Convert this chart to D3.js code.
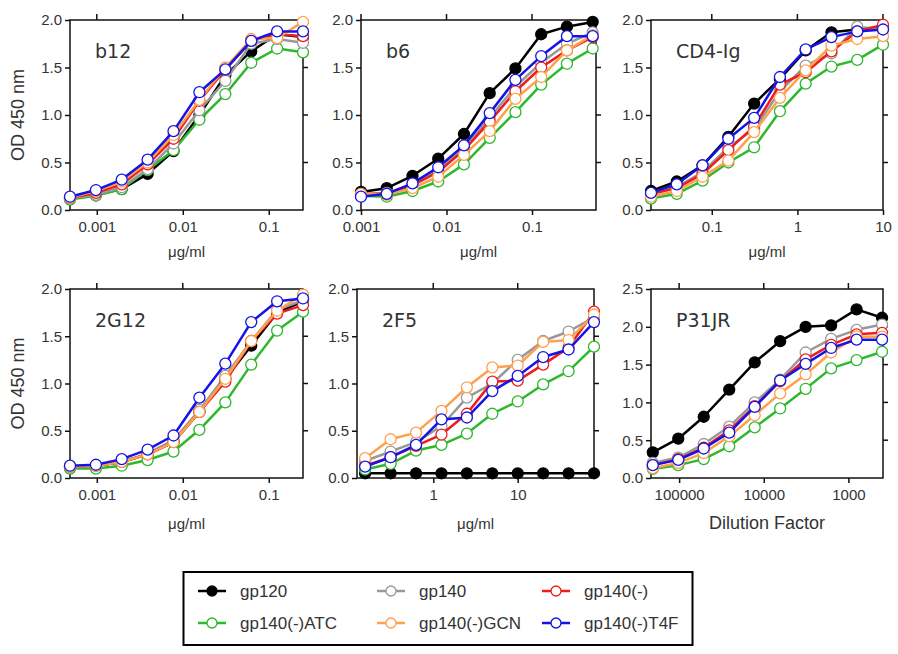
<!DOCTYPE html>
<html>
<head>
<meta charset="utf-8">
<script src="https://cdn.jsdelivr.net/npm/d3@7"></script>
<style>
  html, body { margin: 0; padding: 0; background: #fff; }
  svg { display: block; }
  text { font-family: "Liberation Sans", Arial, sans-serif; fill: #333; }
</style>
</head>
<body>
<svg id="chart" width="898" height="654"></svg>
<script>
// ---------- data ----------
const seriesNames  = ["gp120", "gp140", "gp140(-)", "gp140(-)ATC", "gp140(-)GCN", "gp140(-)T4F"];
const seriesColors = ["#000000", "#999999", "#ee1c1c", "#2db82d", "#ffa04d", "#1414e6"];
const drawOrder = [0, 3, 1, 2, 4, 5];

const panelNames = ["b12", "b6", "CD4-Ig", "2G12", "2F5", "P31JR"];
const xLabels = ["\u03BCg/ml", "\u03BCg/ml", "\u03BCg/ml", "\u03BCg/ml", "\u03BCg/ml", "Dilution Factor"];

const concB12  = [0.000488, 0.000977, 0.00195, 0.0039, 0.0078, 0.0156, 0.03125, 0.0625, 0.125, 0.25];
const concB6   = [0.001, 0.002, 0.004, 0.008, 0.016, 0.032, 0.064, 0.128, 0.256, 0.512];
const concCD4  = [0.0195, 0.039, 0.078, 0.156, 0.3125, 0.625, 1.25, 2.5, 5, 10];
const conc2G12 = [0.000488, 0.000977, 0.00195, 0.0039, 0.0078, 0.0156, 0.03125, 0.0625, 0.125, 0.25];
const conc2F5  = [0.156, 0.3125, 0.625, 1.25, 2.5, 5, 10, 20, 40, 80];
const dilP31   = [204800, 102400, 51200, 25600, 12800, 6400, 3200, 1600, 800, 400];

// OD values, one row per series in seriesNames order
const odB12 = [
  [0.12, 0.16, 0.22, 0.38, 0.62, 1.00, 1.42, 1.67, 1.85, 1.82],
  [0.12, 0.16, 0.24, 0.43, 0.70, 1.05, 1.36, 1.75, 1.80, 1.76],
  [0.13, 0.18, 0.27, 0.48, 0.75, 1.15, 1.48, 1.78, 1.85, 1.83],
  [0.11, 0.15, 0.22, 0.42, 0.63, 0.95, 1.22, 1.55, 1.70, 1.66],
  [0.13, 0.20, 0.30, 0.50, 0.79, 1.16, 1.50, 1.80, 1.81, 1.98],
  [0.14, 0.21, 0.32, 0.53, 0.83, 1.24, 1.48, 1.78, 1.88, 1.88]
];
const odB6 = [
  [0.19, 0.23, 0.36, 0.54, 0.80, 1.23, 1.49, 1.85, 1.93, 1.98],
  [0.16, 0.18, 0.27, 0.42, 0.65, 0.97, 1.30, 1.55, 1.75, 1.87],
  [0.17, 0.17, 0.26, 0.40, 0.63, 0.93, 1.25, 1.50, 1.68, 1.82],
  [0.15, 0.14, 0.20, 0.30, 0.48, 0.76, 1.03, 1.32, 1.54, 1.70],
  [0.17, 0.16, 0.23, 0.35, 0.58, 0.83, 1.17, 1.40, 1.68, 1.84],
  [0.14, 0.17, 0.28, 0.45, 0.68, 1.02, 1.37, 1.62, 1.83, 1.83]
];
const odCD4 = [
  [0.20, 0.30, 0.47, 0.77, 1.12, 1.38, 1.68, 1.87, 1.90, 1.93],
  [0.16, 0.24, 0.40, 0.66, 0.85, 1.25, 1.52, 1.65, 1.93, 1.90],
  [0.17, 0.23, 0.38, 0.63, 0.88, 1.32, 1.45, 1.67, 1.88, 1.95],
  [0.12, 0.17, 0.31, 0.50, 0.66, 1.04, 1.33, 1.51, 1.58, 1.74],
  [0.14, 0.20, 0.35, 0.52, 0.82, 1.18, 1.47, 1.73, 1.80, 1.83],
  [0.18, 0.27, 0.47, 0.75, 0.97, 1.40, 1.69, 1.82, 1.88, 1.90]
];
const od2G12 = [
  [0.12, 0.13, 0.17, 0.25, 0.38, 0.70, 1.05, 1.40, 1.75, 1.87],
  [0.12, 0.13, 0.17, 0.26, 0.40, 0.72, 1.08, 1.45, 1.78, 1.88],
  [0.12, 0.13, 0.17, 0.25, 0.38, 0.70, 1.02, 1.45, 1.74, 1.83],
  [0.10, 0.10, 0.13, 0.19, 0.28, 0.51, 0.80, 1.20, 1.56, 1.76],
  [0.12, 0.13, 0.17, 0.25, 0.38, 0.70, 1.05, 1.45, 1.77, 1.94],
  [0.13, 0.14, 0.20, 0.30, 0.45, 0.85, 1.21, 1.65, 1.87, 1.90]
];
const od2F5 = [
  [0.05, 0.05, 0.05, 0.05, 0.05, 0.05, 0.05, 0.05, 0.05, 0.05],
  [0.18, 0.28, 0.38, 0.55, 0.85, 1.00, 1.25, 1.45, 1.55, 1.70],
  [0.13, 0.22, 0.34, 0.46, 0.68, 1.02, 1.03, 1.20, 1.38, 1.76],
  [0.09, 0.15, 0.29, 0.35, 0.47, 0.68, 0.81, 0.99, 1.13, 1.39],
  [0.21, 0.41, 0.48, 0.71, 0.96, 1.17, 1.19, 1.44, 1.46, 1.73],
  [0.12, 0.22, 0.35, 0.62, 0.64, 0.92, 1.08, 1.28, 1.36, 1.65]
];
const odP31 = [
  [0.34, 0.52, 0.81, 1.17, 1.53, 1.81, 2.00, 2.02, 2.23, 2.12],
  [0.20, 0.27, 0.45, 0.68, 1.00, 1.30, 1.66, 1.84, 1.96, 2.03],
  [0.17, 0.25, 0.40, 0.63, 0.95, 1.28, 1.57, 1.76, 1.90, 1.92],
  [0.12, 0.17, 0.25, 0.42, 0.67, 0.92, 1.18, 1.45, 1.56, 1.67],
  [0.13, 0.20, 0.33, 0.55, 0.83, 1.12, 1.37, 1.66, 1.87, 1.87],
  [0.17, 0.24, 0.39, 0.60, 0.94, 1.29, 1.51, 1.72, 1.83, 1.83]
];

const xTicksB12  = [0.001, 0.01, 0.1];
const xTicksB6   = [0.001, 0.01, 0.1];
const xTicksCD4  = [0.1, 1, 10];
const xTicks2G12 = [0.001, 0.01, 0.1];
const xTicks2F5  = [1, 10];
const xTicksP31  = [100000, 10000, 1000];
const yTicksOD   = [0, 0.5, 1.0, 1.5, 2.0];
const yTicksP31  = [0, 0.5, 1.0, 1.5, 2.0, 2.5];

// ---------- layout ----------
const panels = [
  { x: concB12,  y: odB12,  xd: [0.000488, 0.25], yMax: 2.0, xt: xTicksB12,  yt: yTicksOD,  box: [70, 303, 20, 210], lab: 47 },
  { x: concB6,   y: odB6,   xd: [0.001, 0.56],    yMax: 2.0, xt: xTicksB6,   yt: yTicksOD,  box: [361, 596, 20, 210], lab: 47 },
  { x: concCD4,  y: odCD4,  xd: [0.0195, 10],     yMax: 2.0, xt: xTicksCD4,  yt: yTicksOD,  box: [651, 883, 20, 210], lab: 47 },
  { x: conc2G12, y: od2G12, xd: [0.000488, 0.25], yMax: 2.0, xt: xTicks2G12, yt: yTicksOD,  box: [70, 303, 289, 478], lab: 51 },
  { x: conc2F5,  y: od2F5,  xd: [0.125, 80],      yMax: 2.0, xt: xTicks2F5,  yt: yTicksOD,  box: [357, 594, 289, 478], lab: 51 },
  { x: dilP31,   y: odP31,  xd: [215000, 390],    yMax: 2.5, xt: xTicksP31,  yt: yTicksP31, box: [651, 883, 289, 478], lab: 51 }
];

const svg = d3.select("#chart");
const fmtX = d => (d >= 1 ? d3.format("d")(d) : String(d));

panels.forEach((p, i) => {
  const [x0, x1, y0, y1] = p.box;
  const xs = d3.scaleLog().domain(p.xd).range([x0, x1]);
  const ys = d3.scaleLinear().domain([0, p.yMax]).range([y1, y0]);
  const g = svg.append("g");

  // frame
  g.append("rect").attr("x", x0).attr("y", y0).attr("width", x1 - x0).attr("height", y1 - y0)
    .attr("fill", "none").attr("stroke", "#111").attr("stroke-width", 1.5);

  // left axis
  const ay = g.append("g").attr("transform", `translate(${x0},0)`)
    .call(d3.axisLeft(ys).tickValues(p.yt).tickFormat(d3.format(".1f")).tickSize(5).tickPadding(3));
  // bottom axis
  const ax = g.append("g").attr("transform", `translate(0,${y1})`)
    .call(d3.axisBottom(xs).tickValues(p.xt).tickFormat(fmtX).tickSize(5).tickPadding(6));
  [ay, ax].forEach(a => {
    a.select(".domain").remove();
    a.selectAll("line").attr("stroke", "#111").attr("stroke-width", 1.5);
    a.selectAll("text").attr("font-size", 15).attr("fill", "#333")
      .style("font-family", "'Liberation Sans', Arial, sans-serif");
  });
  // mirrored ticks (top, right)
  g.selectAll(".tt").data(p.xt).join("line")
    .attr("x1", d => xs(d)).attr("x2", d => xs(d)).attr("y1", y0).attr("y2", y0 - 6)
    .attr("stroke", "#111").attr("stroke-width", 1.5);
  g.selectAll(".rt").data(p.yt.filter(v => v > 0 && v < p.yMax)).join("line")
    .attr("x1", x1).attr("x2", x1 + 5).attr("y1", d => ys(d)).attr("y2", d => ys(d))
    .attr("stroke", "#111").attr("stroke-width", 1.5);

  // series
  const line = d3.line().x(d => xs(d[0])).y(d => ys(d[1]));
  drawOrder.forEach(s => {
    const pts = p.x.map((xv, k) => [xv, p.y[s][k]]);
    g.append("path").datum(pts).attr("d", line).attr("fill", "none")
      .attr("stroke", seriesColors[s]).attr("stroke-width", 2.5).attr("stroke-linejoin", "round");
    g.selectAll(null).data(pts).join("circle")
      .attr("cx", d => xs(d[0])).attr("cy", d => ys(d[1])).attr("r", 5.5)
      .attr("fill", s === 0 ? "#000" : "#fff")
      .attr("stroke", seriesColors[s]).attr("stroke-width", 1.3);
  });

  // panel name
  g.append("text").attr("x", x0 + 25).attr("y", y0 + 38).text(panelNames[i])
    .attr("font-size", 19).style("font-family", "'DejaVu Sans', Verdana, sans-serif");
  // x label
  const isDil = i === 5;
  g.append("text").attr("x", (x0 + x1) / 2).attr("y", y1 + p.lab)
    .attr("text-anchor", "middle").attr("font-size", isDil ? 18 : 15).text(xLabels[i]);
  // y label
  if (x0 < 100) {
    g.append("text").attr("transform", `translate(24,${(y0 + y1) / 2}) rotate(-90)`)
      .attr("text-anchor", "middle").attr("font-size", 18).text("OD 450 nm");
  }
});

// ---------- legend ----------
const leg = svg.append("g");
leg.append("rect").attr("x", 183.5).attr("y", 572).attr("width", 509).attr("height", 73)
  .attr("fill", "#fff").attr("stroke", "#000").attr("stroke-width", 2);
const colX = [198, 377, 542];
const rowY = [591, 623];
const legOrder = [0, 1, 2, 3, 4, 5];
legOrder.forEach((s, k) => {
  const cx = colX[k % 3], cy = rowY[Math.floor(k / 3)];
  leg.append("line").attr("x1", cx).attr("x2", cx + 28).attr("y1", cy).attr("y2", cy)
    .attr("stroke", seriesColors[s]).attr("stroke-width", 2.5);
  leg.append("circle").attr("cx", cx + 14).attr("cy", cy).attr("r", 5)
    .attr("fill", s === 0 ? "#000" : "#fff").attr("stroke", seriesColors[s]).attr("stroke-width", 1.3);
  leg.append("text").attr("x", cx + 42).attr("y", cy + 6).attr("font-size", 17).text(seriesNames[s]);
});
</script>
</body>
</html>
